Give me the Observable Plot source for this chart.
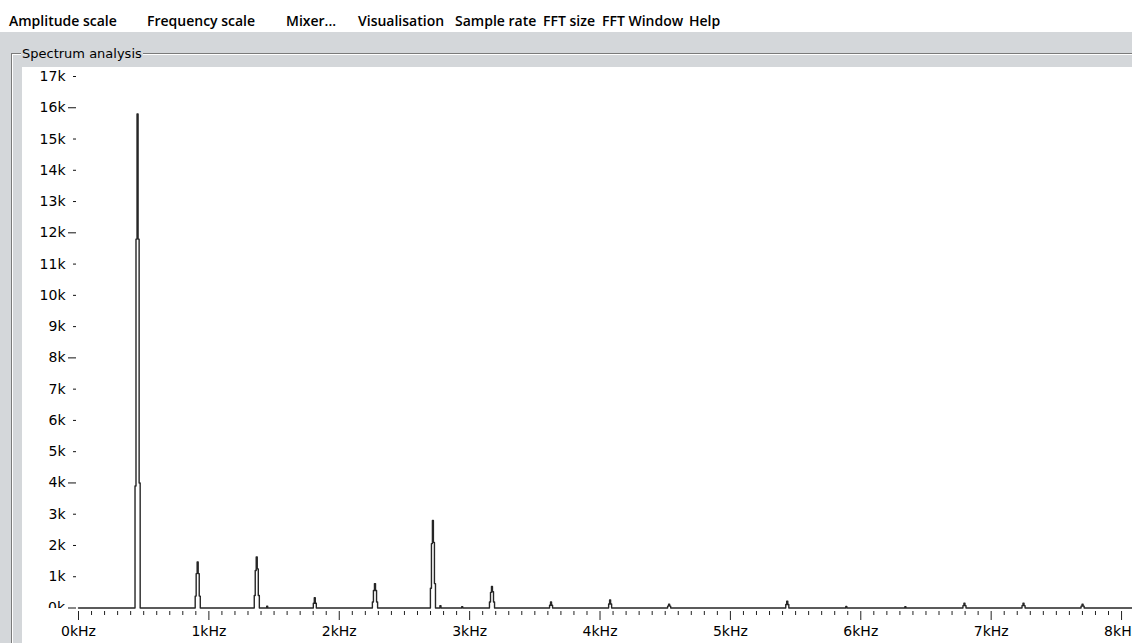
<!DOCTYPE html>
<html>
<head>
<meta charset="utf-8">
<script src="https://cdn.jsdelivr.net/npm/d3@7"></script>
<script src="https://cdn.jsdelivr.net/npm/@observablehq/plot@0.6"></script>
<style>
html, body { margin: 0; padding: 0; width: 1132px; height: 643px; overflow: hidden; background: #fff; }
.abs { position: absolute; }
.menu { position: absolute; top: 11px; line-height: 20px; font: 600 14px "Open Sans", sans-serif; color: #000; white-space: nowrap; }
#band { left: 0; top: 32px; width: 1132px; height: 35px; background: #d4d7da; }
#leftStrip { left: 0; top: 53px; width: 22px; height: 590px; background: #d4d7da; }
#leftOuter { left: 0; top: 53px; width: 11px; height: 590px; background: #f0f0f0; }
#gbTop { left: 11px; top: 53px; width: 1121px; height: 1px; background: #7a7a7a; }
#gbTopHi { left: 12px; top: 54px; width: 1120px; height: 1px; background: #ffffff; }
#gbLeft { left: 11px; top: 53px; width: 1px; height: 590px; background: #7a7a7a; }
#gbLeftHi { left: 12px; top: 54px; width: 1px; height: 589px; background: #ffffff; }
#gbTitle { left: 21px; top: 46px; line-height: 16px; font: 13px "DejaVu Sans", sans-serif; background: #d4d7da; padding: 0 1px; color: #000; white-space: nowrap; }
#chart { position: absolute; left: 22px; top: 67px; }
</style>
</head>
<body>
<div id="menuBar"></div>
<div class="abs" id="band"></div>
<div class="abs" id="leftOuter"></div>
<div class="abs" id="leftStrip"></div>
<div class="abs" id="gbTop"></div>
<div class="abs" id="gbTopHi"></div>
<div class="abs" id="gbLeft"></div>
<div class="abs" id="gbLeftHi"></div>
<div class="abs" id="gbTitle">Spectrum analysis</div>
<div id="chart"></div>
<script>
// ---- Menu ----
const menuItems = ["Amplitude scale", "Frequency scale", "Mixer...", "Visualisation", "Sample rate", "FFT size", "FFT Window", "Help"];
const menuLeft = [9, 147, 286, 358, 455, 543, 602, 689];

// ---- Spectrum data (frequency in Hz, amplitude) ----
const freqHz = [
  0,
  430, 437, 445, 453, 461, 469, 477,
  891, 899, 906, 914, 922, 930, 938,
  1344, 1352, 1359, 1367, 1375, 1383, 1391,
  1440, 1447, 1455,
  1797, 1805, 1812, 1820, 1828,
  2250, 2258, 2266, 2274, 2282, 2290, 2298,
  2695, 2703, 2711, 2718, 2726, 2734, 2742,
  2768, 2776, 2784,
  2935, 2943, 2951,
  3148, 3156, 3164, 3171, 3179, 3187, 3195,
  3609, 3617, 3624, 3632, 3640,
  4062, 4070, 4077, 4085, 4093,
  4515, 4522, 4530, 4538, 4546,
  5421, 5428, 5436, 5444, 5452,
  5881, 5889, 5897,
  6334, 6342, 6350,
  6780, 6787, 6795, 6803, 6811,
  7233, 7240, 7248, 7256, 7264,
  7686, 7693, 7701, 7709, 7717,
  8084
];
const amplitude = [
  0,
  0, 3900, 11800, 15800, 11800, 4000, 0,
  0, 380, 1100, 1470, 1100, 380, 0,
  0, 400, 1200, 1630, 1250, 400, 0,
  0, 60, 0,
  0, 150, 330, 150, 0,
  0, 190, 560, 780, 560, 190, 0,
  0, 630, 2060, 2800, 2100, 780, 0,
  0, 70, 0,
  0, 40, 0,
  0, 190, 500, 690, 520, 190, 0,
  0, 90, 190, 90, 0,
  0, 130, 260, 130, 0,
  0, 60, 120, 60, 0,
  0, 110, 220, 110, 0,
  0, 50, 0,
  0, 40, 0,
  0, 75, 150, 75, 0,
  0, 75, 150, 75, 0,
  0, 60, 120, 60, 0,
  0
];

// ---- Axis ticks and labels ----
const yTicks = [0, 1000, 2000, 3000, 4000, 5000, 6000, 7000, 8000, 9000, 10000, 11000, 12000, 13000, 14000, 15000, 16000, 17000];
const yTickLabels = ["0k", "1k", "2k", "3k", "4k", "5k", "6k", "7k", "8k", "9k", "10k", "11k", "12k", "13k", "14k", "15k", "16k", "17k"];
const yMajorTicks = [0, 4000, 8000, 12000, 16000];
const xMajorTicks = [0, 1000, 2000, 3000, 4000, 5000, 6000, 7000, 8000];
const xTickLabels = ["0kHz", "1kHz", "2kHz", "3kHz", "4kHz", "5kHz", "6kHz", "7kHz", "8kHz"];
const xMinorStep = 100;

// menu
const mb = document.getElementById("menuBar");
menuItems.forEach((t, i) => {
  const s = document.createElement("span");
  s.className = "menu";
  s.style.left = menuLeft[i] + "px";
  s.textContent = t;
  mb.appendChild(s);
});

const points = freqHz.map((f, i) => ({f, a: amplitude[i]}));
const yMinorTicks = yTicks.filter(d => !yMajorTicks.includes(d));
const xMinorTicks = d3.range(0, 8001, xMinorStep).filter(d => !xMajorTicks.includes(d));
const yLabelTicks = yTicks.filter(d => d !== 0);

const chart = Plot.plot({
  width: 1110,
  height: 576,
  marginLeft: 56,
  marginRight: 0,
  marginTop: 9,
  marginBottom: 35.5,
  x: {domain: [0, 8084], axis: null, label: null},
  y: {domain: [0, 17000], axis: null, label: null},
  style: {fontFamily: "DejaVu Sans", fontSize: "14px", background: "white", color: "black", overflow: "hidden"},
  marks: [
    Plot.axisY(yLabelTicks, {label: null, tickSize: 0, tickPadding: 13, tickFormat: d => yTickLabels[yTicks.indexOf(d)], fontSize: 14}),
    Plot.axisY(yMinorTicks, {label: null, tickSize: 3, dx: -2, tickFormat: () => "", stroke: "#111"}),
    Plot.axisY(yMajorTicks, {label: null, tickSize: 8, dx: -2, tickFormat: () => "", stroke: "#111"}),
    Plot.axisX(xMinorTicks, {label: null, tickSize: 4, dy: 3.5, tickFormat: () => "", stroke: "#222"}),
    Plot.axisX(xMajorTicks, {label: null, tickSize: 9, dy: 3.5, tickPadding: 6, tickFormat: d => xTickLabels[xMajorTicks.indexOf(d)], stroke: "#222", fontSize: 14}),
    Plot.line(points, {x: "f", y: "a", curve: "step", stroke: "#262626", strokeWidth: 1.4})
  ]
});
document.getElementById("chart").appendChild(chart);

// "0k" label, clipped at the baseline as in the original window
const svg = d3.select(chart);
const ys = chart.scale("y");
const y0 = ys.apply(0);
svg.append("clipPath").attr("id", "zeroClip")
  .append("rect").attr("x", 0).attr("y", y0 - 20).attr("width", 56).attr("height", 20.5);
svg.append("text")
  .attr("clip-path", "url(#zeroClip)")
  .attr("x", 43).attr("y", y0).attr("dy", "0.32em")
  .attr("text-anchor", "end")
  .attr("font-family", "DejaVu Sans").attr("font-size", 14)
  .attr("fill", "black")
  .text(yTickLabels[0]);
</script>
</body>
</html>
